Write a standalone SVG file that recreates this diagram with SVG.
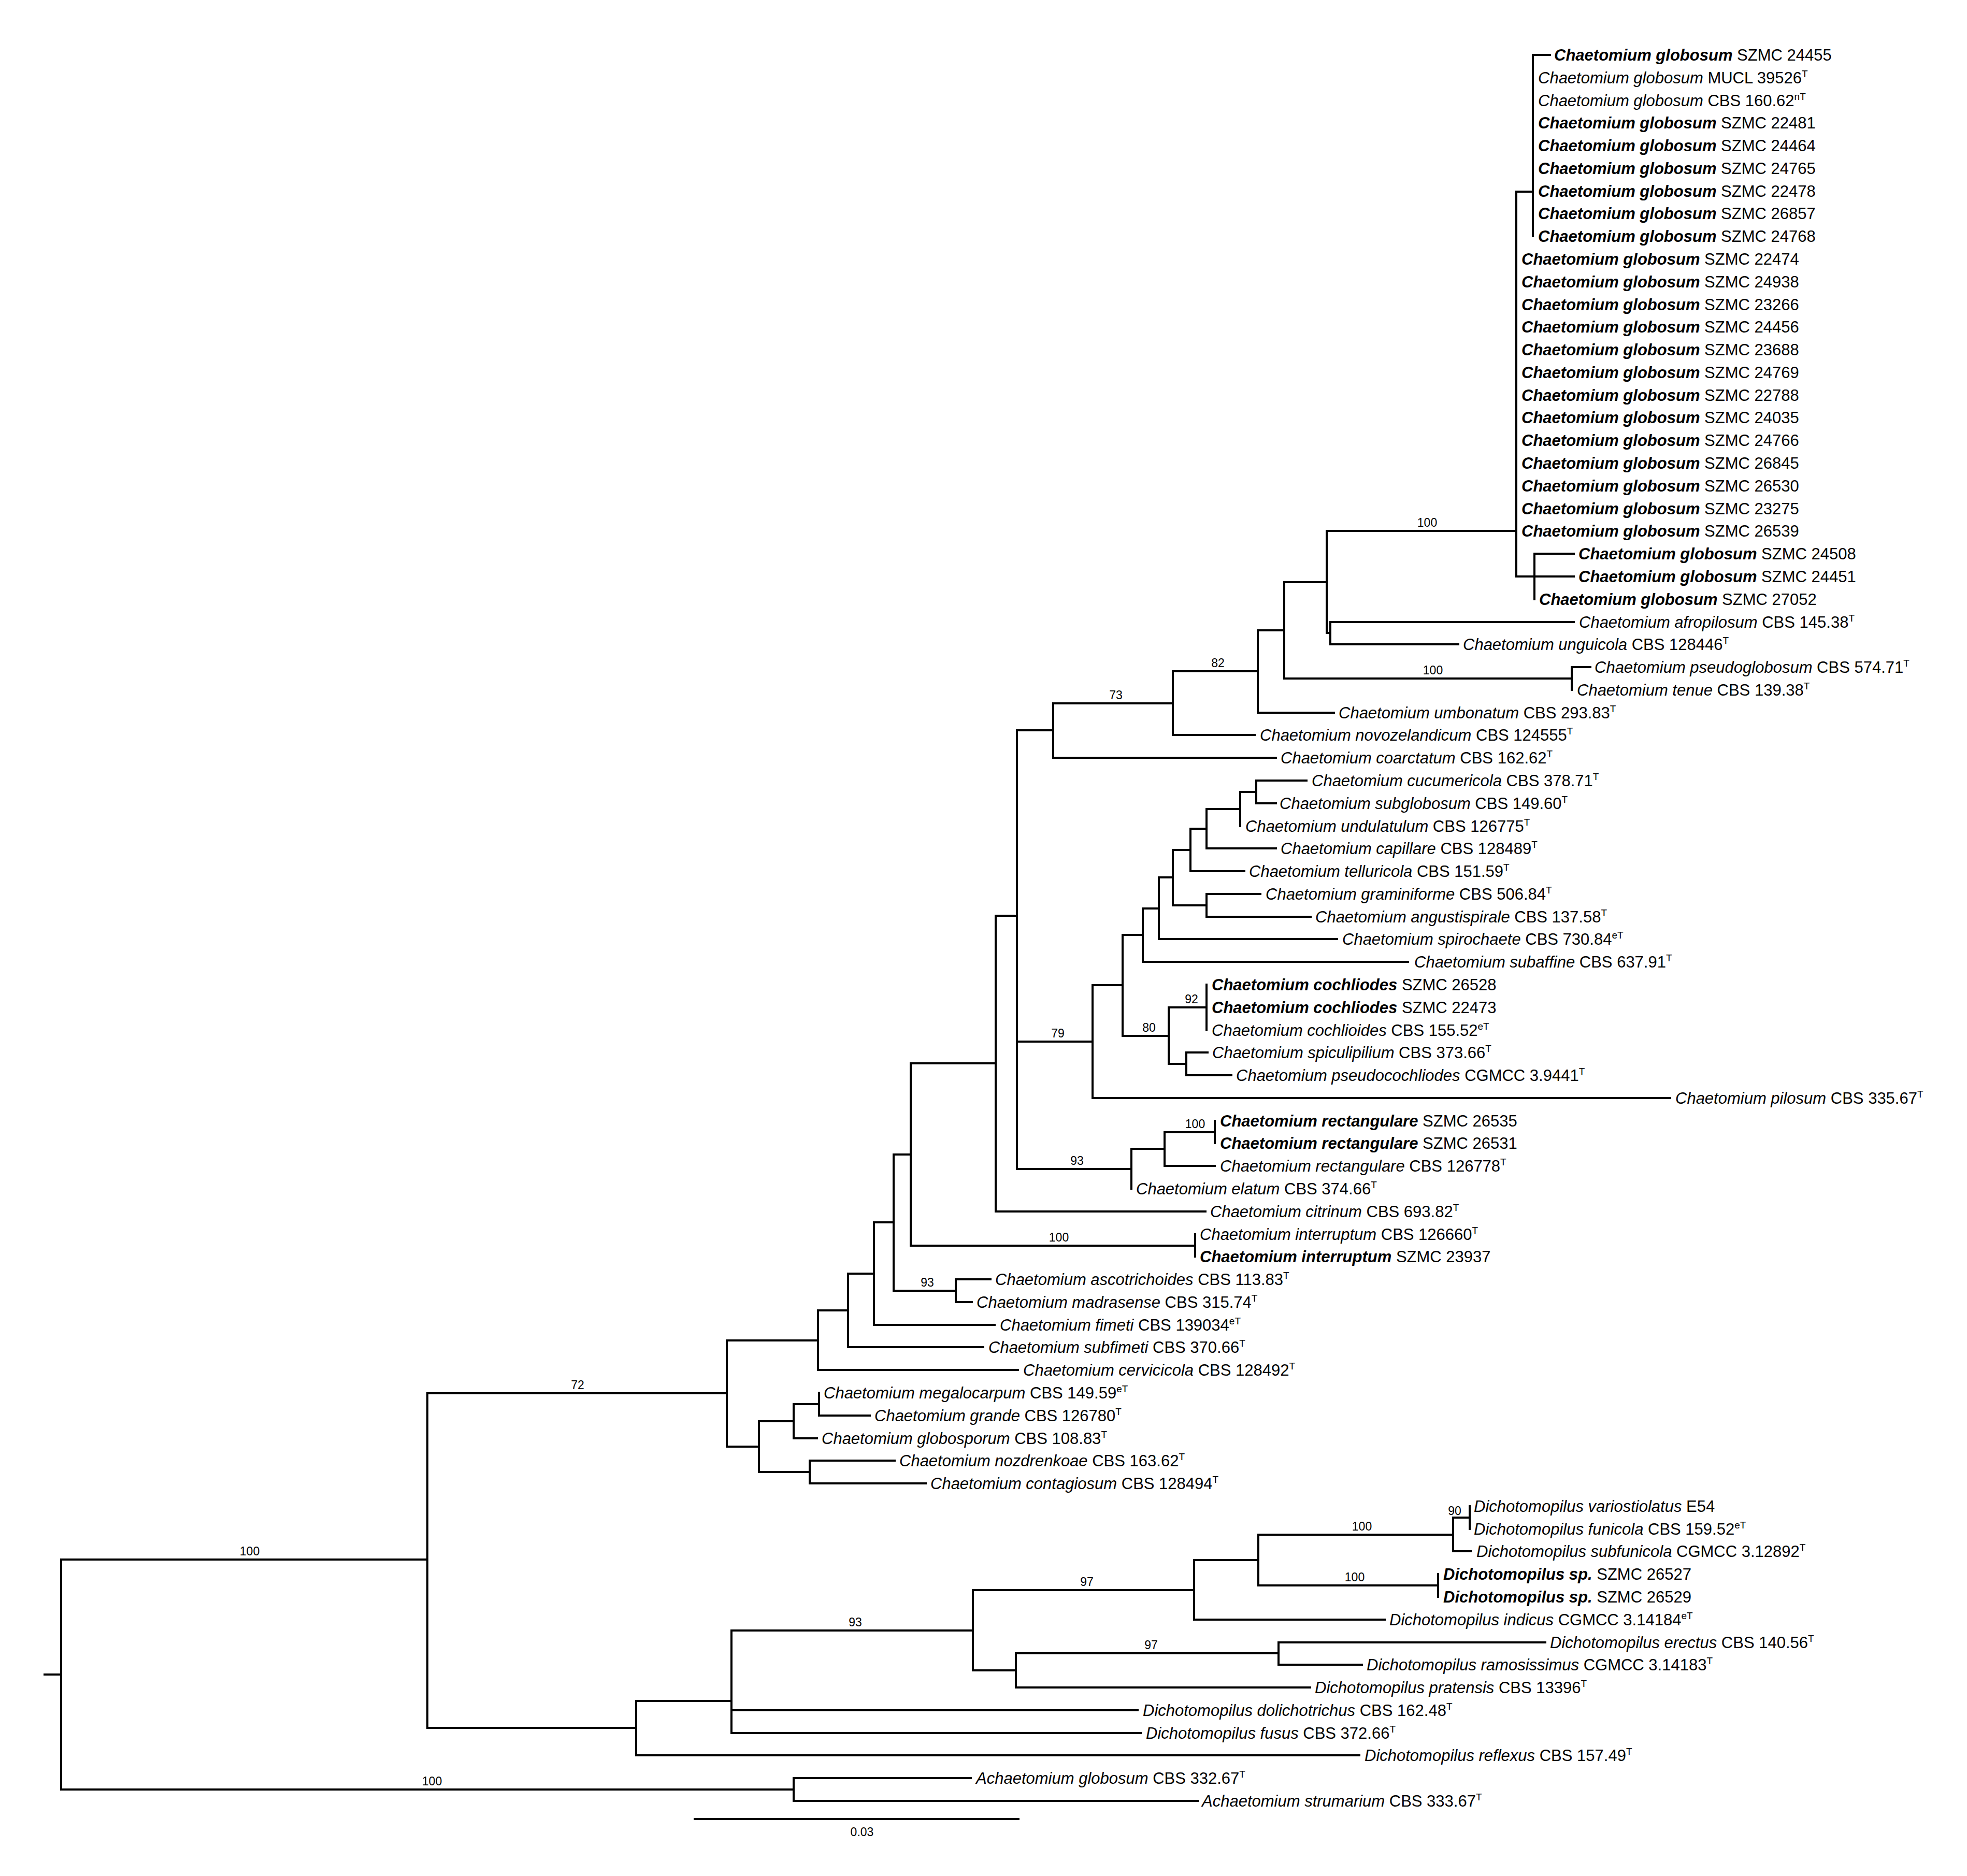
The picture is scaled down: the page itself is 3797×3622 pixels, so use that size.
<svg xmlns="http://www.w3.org/2000/svg" width="3797" height="3622" viewBox="0 0 3797 3622">
<style>
text{font-family:"Liberation Sans",Arial,sans-serif;font-size:31px;fill:#000}
.i{font-style:italic}
.b{font-weight:bold;font-style:italic}
.s{font-size:19px}
.l{font-size:23px;text-anchor:middle}
.e{fill:none;stroke:#000;stroke-width:4;stroke-linecap:square}
</style>
<rect width="3797" height="3622" fill="#fff"/>
<g id="connectors" class="e">
<path d="M86 3233H118M118 3011V3455M118 3011H825M118 3455H1532M1532 3433V3477M1532 3433H1874M1532 3477H2312
M825 2690V3336M825 2690H1403M825 3336H1228
M1403 2588V2793M1403 2588H1579M1403 2793H1465
M1579 2530V2645M1579 2530H1637M1579 2645H1965
M1637 2459V2601M1637 2459H1687M1637 2601H1898
M1687 2360V2558M1687 2360H1725M1687 2558H1920
M1725 2229V2492M1725 2492H1845M1725 2229H1758
M1845 2470V2514M1845 2470H1912M1845 2514H1876
M1758 2053V2405M1758 2405H2307M1758 2053H1922
M2307 2383V2426
M1922 1768V2339M1922 2339H2327M1922 1768H1963
M1963 1410V2257M1963 1410H2033M1963 2011H2109M1963 2257H2184
M2033 1358V1463M2033 1358H2264M2033 1463H2463
M2264 1296V1419M2264 1296H2428M2264 1419H2422
M2428 1217V1376M2428 1217H2479M2428 1376H2575
M2479 1124V1310M2479 1124H2561M2479 1310H3034
M3034 1288V1332M3034 1288H3070
M2561 1025V1222M2561 1025H2927M2561 1222H2568
M2568 1201V1244M2568 1201H3038M2568 1244H2815
M2927 370V1113M2927 370H2959M2927 1113H2962
M2959 106V456M2959 106H2992
M2962 1069V1157M2962 1069H3038M2962 1113H3038
M2109 1902V2120M2109 1902H2167M2109 2120H3224
M2167 1805V2000M2167 1805H2206M2167 2000H2256
M2206 1754V1857M2206 1754H2237M2206 1857H2718
M2237 1694V1813M2237 1694H2264M2237 1813H2581
M2264 1641V1748M2264 1641H2298M2264 1748H2329
M2329 1726V1770M2329 1726H2433M2329 1770H2530
M2298 1600V1682M2298 1600H2329M2298 1682H2402
M2329 1562V1638M2329 1562H2394M2329 1638H2463
M2394 1529V1595M2394 1529H2425
M2425 1507V1551M2425 1507H2522M2425 1551H2463
M2256 1945V2054M2256 1945H2329M2256 2054H2290
M2329 1901V1989
M2290 2032V2076M2290 2032H2331M2290 2076H2377
M2184 2218V2295M2184 2218H2248
M2248 2186V2251M2248 2186H2345M2248 2251H2345
M2345 2164V2207
M1465 2744V2842M1465 2744H1532M1465 2842H1563
M1532 2711V2777M1532 2711H1581M1532 2777H1577
M1581 2689V2733M1581 2733H1679
M1563 2820V2864M1563 2820H1727M1563 2864H1787
M1228 3284V3389M1228 3284H1412M1228 3389H2624
M1412 3148V3346M1412 3148H1878M1412 3302H2196M1412 3346H2202
M1878 3070V3225M1878 3070H2305M1878 3225H1961
M2305 3012V3127M2305 3012H2429M2305 3127H2673
M2429 2963V3061M2429 2963H2805M2429 3061H2776
M2805 2930V2995M2805 2930H2837M2805 2995H2839
M2837 2908V2952
M2776 3039V3083
M1961 3192V3258M1961 3192H2468M1961 3258H2529
M2468 3171V3214M2468 3171H2983M2468 3214H2629
M1341 3512H1966"/>
</g>
<g id="support">
<text class="l" x="482" y="3003">100</text>
<text class="l" x="834" y="3447">100</text>
<text class="l" x="1115" y="2682">72</text>
<text class="l" x="1790" y="2484">93</text>
<text class="l" x="2044" y="2397">100</text>
<text class="l" x="2079" y="2249">93</text>
<text class="l" x="2307" y="2178">100</text>
<text class="l" x="2042" y="2003">79</text>
<text class="l" x="2218" y="1992">80</text>
<text class="l" x="2300" y="1937">92</text>
<text class="l" x="2154" y="1350">73</text>
<text class="l" x="2351" y="1288">82</text>
<text class="l" x="2755" y="1017">100</text>
<text class="l" x="2766" y="1302">100</text>
<text class="l" x="1651" y="3140">93</text>
<text class="l" x="2098" y="3062">97</text>
<text class="l" x="2222" y="3184">97</text>
<text class="l" x="2629" y="2955">100</text>
<text class="l" x="2615" y="3053">100</text>
<text class="l" x="2808" y="2925">90</text>
<text class="l" x="1664" y="3545">0.03</text>
</g>
<g id="leaves">
<g id="n1"><text x="3000" y="117"><tspan class="b">Chaetomium globosum</tspan> SZMC 24455</text></g>
<g id="n2"><text x="2969" y="161"><tspan class="i">Chaetomium globosum</tspan> MUCL 39526<tspan class="s" dy="-12">T</tspan></text></g>
<g id="n3"><text x="2969" y="205"><tspan class="i">Chaetomium globosum</tspan> CBS 160.62<tspan class="s" dy="-12">nT</tspan></text></g>
<g id="n4"><text x="2969" y="248"><tspan class="b">Chaetomium globosum</tspan> SZMC 22481</text></g>
<g id="n5"><text x="2969" y="292"><tspan class="b">Chaetomium globosum</tspan> SZMC 24464</text></g>
<g id="n6"><text x="2969" y="336"><tspan class="b">Chaetomium globosum</tspan> SZMC 24765</text></g>
<g id="n7"><text x="2969" y="380"><tspan class="b">Chaetomium globosum</tspan> SZMC 22478</text></g>
<g id="n8"><text x="2969" y="423"><tspan class="b">Chaetomium globosum</tspan> SZMC 26857</text></g>
<g id="n9"><text x="2969" y="467"><tspan class="b">Chaetomium globosum</tspan> SZMC 24768</text></g>
<g id="n10"><text x="2937" y="511"><tspan class="b">Chaetomium globosum</tspan> SZMC 22474</text></g>
<g id="n11"><text x="2937" y="555"><tspan class="b">Chaetomium globosum</tspan> SZMC 24938</text></g>
<g id="n12"><text x="2937" y="599"><tspan class="b">Chaetomium globosum</tspan> SZMC 23266</text></g>
<g id="n13"><text x="2937" y="642"><tspan class="b">Chaetomium globosum</tspan> SZMC 24456</text></g>
<g id="n14"><text x="2937" y="686"><tspan class="b">Chaetomium globosum</tspan> SZMC 23688</text></g>
<g id="n15"><text x="2937" y="730"><tspan class="b">Chaetomium globosum</tspan> SZMC 24769</text></g>
<g id="n16"><text x="2937" y="774"><tspan class="b">Chaetomium globosum</tspan> SZMC 22788</text></g>
<g id="n17"><text x="2937" y="817"><tspan class="b">Chaetomium globosum</tspan> SZMC 24035</text></g>
<g id="n18"><text x="2937" y="861"><tspan class="b">Chaetomium globosum</tspan> SZMC 24766</text></g>
<g id="n19"><text x="2937" y="905"><tspan class="b">Chaetomium globosum</tspan> SZMC 26845</text></g>
<g id="n20"><text x="2937" y="949"><tspan class="b">Chaetomium globosum</tspan> SZMC 26530</text></g>
<g id="n21"><text x="2937" y="993"><tspan class="b">Chaetomium globosum</tspan> SZMC 23275</text></g>
<g id="n22"><text x="2937" y="1036"><tspan class="b">Chaetomium globosum</tspan> SZMC 26539</text></g>
<g id="n23"><text x="3047" y="1080"><tspan class="b">Chaetomium globosum</tspan> SZMC 24508</text></g>
<g id="n24"><text x="3047" y="1124"><tspan class="b">Chaetomium globosum</tspan> SZMC 24451</text></g>
<g id="n25"><text x="2971" y="1168"><tspan class="b">Chaetomium globosum</tspan> SZMC 27052</text></g>
<g id="n26"><text x="3048" y="1212"><tspan class="i">Chaetomium afropilosum</tspan> CBS 145.38<tspan class="s" dy="-12">T</tspan></text></g>
<g id="n27"><text x="2824" y="1255"><tspan class="i">Chaetomium unguicola</tspan> CBS 128446<tspan class="s" dy="-12">T</tspan></text></g>
<g id="n28"><text x="3078" y="1299"><tspan class="i">Chaetomium pseudoglobosum</tspan> CBS 574.71<tspan class="s" dy="-12">T</tspan></text></g>
<g id="n29"><text x="3044" y="1343"><tspan class="i">Chaetomium tenue</tspan> CBS 139.38<tspan class="s" dy="-12">T</tspan></text></g>
<g id="n30"><text x="2584" y="1387"><tspan class="i">Chaetomium umbonatum</tspan> CBS 293.83<tspan class="s" dy="-12">T</tspan></text></g>
<g id="n31"><text x="2432" y="1430"><tspan class="i">Chaetomium novozelandicum</tspan> CBS 124555<tspan class="s" dy="-12">T</tspan></text></g>
<g id="n32"><text x="2472" y="1474"><tspan class="i">Chaetomium coarctatum</tspan> CBS 162.62<tspan class="s" dy="-12">T</tspan></text></g>
<g id="n33"><text x="2532" y="1518"><tspan class="i">Chaetomium cucumericola</tspan> CBS 378.71<tspan class="s" dy="-12">T</tspan></text></g>
<g id="n34"><text x="2470" y="1562"><tspan class="i">Chaetomium subglobosum</tspan> CBS 149.60<tspan class="s" dy="-12">T</tspan></text></g>
<g id="n35"><text x="2404" y="1606"><tspan class="i">Chaetomium undulatulum</tspan> CBS 126775<tspan class="s" dy="-12">T</tspan></text></g>
<g id="n36"><text x="2472" y="1649"><tspan class="i">Chaetomium capillare</tspan> CBS 128489<tspan class="s" dy="-12">T</tspan></text></g>
<g id="n37"><text x="2411" y="1693"><tspan class="i">Chaetomium telluricola</tspan> CBS 151.59<tspan class="s" dy="-12">T</tspan></text></g>
<g id="n38"><text x="2443" y="1737"><tspan class="i">Chaetomium graminiforme</tspan> CBS 506.84<tspan class="s" dy="-12">T</tspan></text></g>
<g id="n39"><text x="2539" y="1781"><tspan class="i">Chaetomium angustispirale</tspan> CBS 137.58<tspan class="s" dy="-12">T</tspan></text></g>
<g id="n40"><text x="2591" y="1824"><tspan class="i">Chaetomium spirochaete</tspan> CBS 730.84<tspan class="s" dy="-12">eT</tspan></text></g>
<g id="n41"><text x="2730" y="1868"><tspan class="i">Chaetomium subaffine</tspan> CBS 637.91<tspan class="s" dy="-12">T</tspan></text></g>
<g id="n42"><text x="2339" y="1912"><tspan class="b">Chaetomium cochliodes</tspan> SZMC 26528</text></g>
<g id="n43"><text x="2339" y="1956"><tspan class="b">Chaetomium cochliodes</tspan> SZMC 22473</text></g>
<g id="n44"><text x="2339" y="2000"><tspan class="i">Chaetomium cochlioides</tspan> CBS 155.52<tspan class="s" dy="-12">eT</tspan></text></g>
<g id="n45"><text x="2340" y="2043"><tspan class="i">Chaetomium spiculipilium</tspan> CBS 373.66<tspan class="s" dy="-12">T</tspan></text></g>
<g id="n46"><text x="2386" y="2087"><tspan class="i">Chaetomium pseudocochliodes</tspan> CGMCC 3.9441<tspan class="s" dy="-12">T</tspan></text></g>
<g id="n47"><text x="3234" y="2131"><tspan class="i">Chaetomium pilosum</tspan> CBS 335.67<tspan class="s" dy="-12">T</tspan></text></g>
<g id="n48"><text x="2355" y="2175"><tspan class="b">Chaetomium rectangulare</tspan> SZMC 26535</text></g>
<g id="n49"><text x="2355" y="2218"><tspan class="b">Chaetomium rectangulare</tspan> SZMC 26531</text></g>
<g id="n50"><text x="2355" y="2262"><tspan class="i">Chaetomium rectangulare</tspan> CBS 126778<tspan class="s" dy="-12">T</tspan></text></g>
<g id="n51"><text x="2193" y="2306"><tspan class="i">Chaetomium elatum</tspan> CBS 374.66<tspan class="s" dy="-12">T</tspan></text></g>
<g id="n52"><text x="2336" y="2350"><tspan class="i">Chaetomium citrinum</tspan> CBS 693.82<tspan class="s" dy="-12">T</tspan></text></g>
<g id="n53"><text x="2316" y="2394"><tspan class="i">Chaetomium interruptum</tspan> CBS 126660<tspan class="s" dy="-12">T</tspan></text></g>
<g id="n54"><text x="2316" y="2437"><tspan class="b">Chaetomium interruptum</tspan> SZMC 23937</text></g>
<g id="n55"><text x="1921" y="2481"><tspan class="i">Chaetomium ascotrichoides</tspan> CBS 113.83<tspan class="s" dy="-12">T</tspan></text></g>
<g id="n56"><text x="1885" y="2525"><tspan class="i">Chaetomium madrasense</tspan> CBS 315.74<tspan class="s" dy="-12">T</tspan></text></g>
<g id="n57"><text x="1930" y="2569"><tspan class="i">Chaetomium fimeti</tspan> CBS 139034<tspan class="s" dy="-12">eT</tspan></text></g>
<g id="n58"><text x="1908" y="2612"><tspan class="i">Chaetomium subfimeti</tspan> CBS 370.66<tspan class="s" dy="-12">T</tspan></text></g>
<g id="n59"><text x="1975" y="2656"><tspan class="i">Chaetomium cervicicola</tspan> CBS 128492<tspan class="s" dy="-12">T</tspan></text></g>
<g id="n60"><text x="1590" y="2700"><tspan class="i">Chaetomium megalocarpum</tspan> CBS 149.59<tspan class="s" dy="-12">eT</tspan></text></g>
<g id="n61"><text x="1688" y="2744"><tspan class="i">Chaetomium grande</tspan> CBS 126780<tspan class="s" dy="-12">T</tspan></text></g>
<g id="n62"><text x="1586" y="2788"><tspan class="i">Chaetomium globosporum</tspan> CBS 108.83<tspan class="s" dy="-12">T</tspan></text></g>
<g id="n63"><text x="1736" y="2831"><tspan class="i">Chaetomium nozdrenkoae</tspan> CBS 163.62<tspan class="s" dy="-12">T</tspan></text></g>
<g id="n64"><text x="1796" y="2875"><tspan class="i">Chaetomium contagiosum</tspan> CBS 128494<tspan class="s" dy="-12">T</tspan></text></g>
<g id="n65"><text x="2845" y="2919"><tspan class="i">Dichotomopilus variostiolatus</tspan> E54</text></g>
<g id="n66"><text x="2845" y="2963"><tspan class="i">Dichotomopilus funicola</tspan> CBS 159.52<tspan class="s" dy="-12">eT</tspan></text></g>
<g id="n67"><text x="2850" y="3006"><tspan class="i">Dichotomopilus subfunicola</tspan> CGMCC 3.12892<tspan class="s" dy="-12">T</tspan></text></g>
<g id="n68"><text x="2786" y="3050"><tspan class="b">Dichotomopilus sp.</tspan> SZMC 26527</text></g>
<g id="n69"><text x="2786" y="3094"><tspan class="b">Dichotomopilus sp.</tspan> SZMC 26529</text></g>
<g id="n70"><text x="2682" y="3138"><tspan class="i">Dichotomopilus indicus</tspan> CGMCC 3.14184<tspan class="s" dy="-12">eT</tspan></text></g>
<g id="n71"><text x="2992" y="3182"><tspan class="i">Dichotomopilus erectus</tspan> CBS 140.56<tspan class="s" dy="-12">T</tspan></text></g>
<g id="n72"><text x="2638" y="3225"><tspan class="i">Dichotomopilus ramosissimus</tspan> CGMCC 3.14183<tspan class="s" dy="-12">T</tspan></text></g>
<g id="n73"><text x="2538" y="3269"><tspan class="i">Dichotomopilus pratensis</tspan> CBS 13396<tspan class="s" dy="-12">T</tspan></text></g>
<g id="n74"><text x="2206" y="3313"><tspan class="i">Dichotomopilus dolichotrichus</tspan> CBS 162.48<tspan class="s" dy="-12">T</tspan></text></g>
<g id="n75"><text x="2212" y="3357"><tspan class="i">Dichotomopilus fusus</tspan> CBS 372.66<tspan class="s" dy="-12">T</tspan></text></g>
<g id="n76"><text x="2634" y="3400"><tspan class="i">Dichotomopilus reflexus</tspan> CBS 157.49<tspan class="s" dy="-12">T</tspan></text></g>
<g id="n77"><text x="1884" y="3444"><tspan class="i">Achaetomium globosum</tspan> CBS 332.67<tspan class="s" dy="-12">T</tspan></text></g>
<g id="n78"><text x="2320" y="3488"><tspan class="i">Achaetomium strumarium</tspan> CBS 333.67<tspan class="s" dy="-12">T</tspan></text></g>
</g>
</svg>
